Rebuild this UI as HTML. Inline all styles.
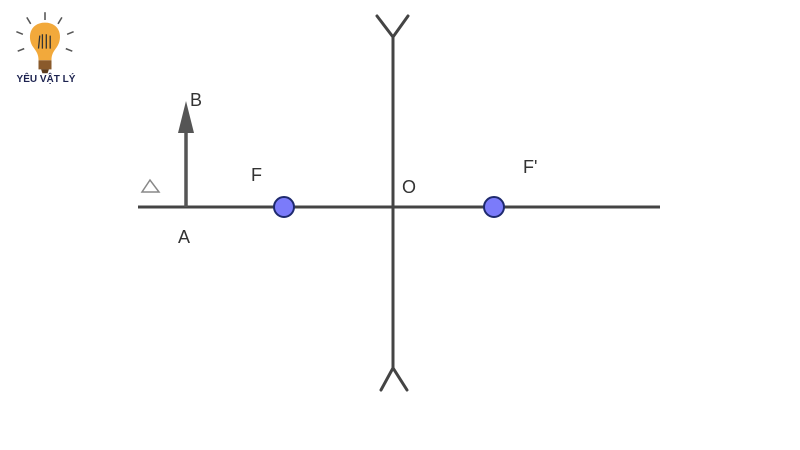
<!DOCTYPE html>
<html><head><style>body{margin:0;background:#fff}svg{display:block}</style></head><body>
<svg width="800" height="450" viewBox="0 0 800 450" xmlns="http://www.w3.org/2000/svg" font-family="Liberation Sans, sans-serif">
<rect width="800" height="450" fill="#fff"/>
<!-- logo -->
<g transform="translate(45,46) scale(1.3) translate(-45,-46)">
<g stroke="#555" stroke-width="1.2">
<line x1="45" y1="20" x2="45" y2="26"/><line x1="31" y1="24" x2="34" y2="29"/><line x1="58" y1="24" x2="55" y2="29"/>
<line x1="23" y1="35" x2="28" y2="37"/><line x1="67" y1="35" x2="62" y2="37"/><line x1="24" y1="50" x2="29" y2="48"/><line x1="66" y1="50" x2="61" y2="48"/>
</g>
<path d="M45 28 C33 28 31 40 36 47 C39 51 40 53 40 57 L50 57 C50 53 51 51 54 47 C59 40 57 28 45 28Z" fill="#f2a93b"/>
<rect x="40" y="57" width="10" height="7" fill="#8a5a2b"/>
<path d="M42 64 h6 l-1 3 h-4z" fill="#5a3a1c"/>
<path d="M40 48 L41 38 M43 48 V37 M46 48 V37 M49 48 V38" stroke="#333" stroke-width="1" fill="none"/>
</g>
<text x="46" y="82" font-size="10" font-weight="bold" fill="#1d2350" text-anchor="middle">YÊU VẬT LÝ</text>
<!-- axis -->
<line x1="138" y1="207" x2="660" y2="207" stroke="#444" stroke-width="3"/>
<!-- lens -->
<g stroke="#444" stroke-width="3" fill="none" stroke-linecap="round">
<line x1="393" y1="37" x2="393" y2="368"/>
<polyline points="377,16 393,37 408,16"/>
<polyline points="381,390 393,368 407,390"/>
</g>
<!-- object -->
<line x1="186" y1="207" x2="186" y2="130" stroke="#555" stroke-width="3.5"/>
<polygon points="186,101 178,133 194,133" fill="#555"/>
<!-- foci -->
<circle cx="284" cy="207" r="10" fill="#7b7bfa" stroke="#1e2a6e" stroke-width="2"/>
<circle cx="494" cy="207" r="10" fill="#7b7bfa" stroke="#1e2a6e" stroke-width="2"/>
<!-- labels -->
<g font-size="18" fill="#333">
<text x="190" y="106">B</text>
<text x="251" y="181">F</text>
<text x="402" y="193">O</text>
<text x="523" y="173">F'</text>
<text x="178" y="243">A</text>
</g>
<polygon points="150,180 142,192 159,192" fill="none" stroke="#888" stroke-width="1.5"/>
</svg>
</body></html>
